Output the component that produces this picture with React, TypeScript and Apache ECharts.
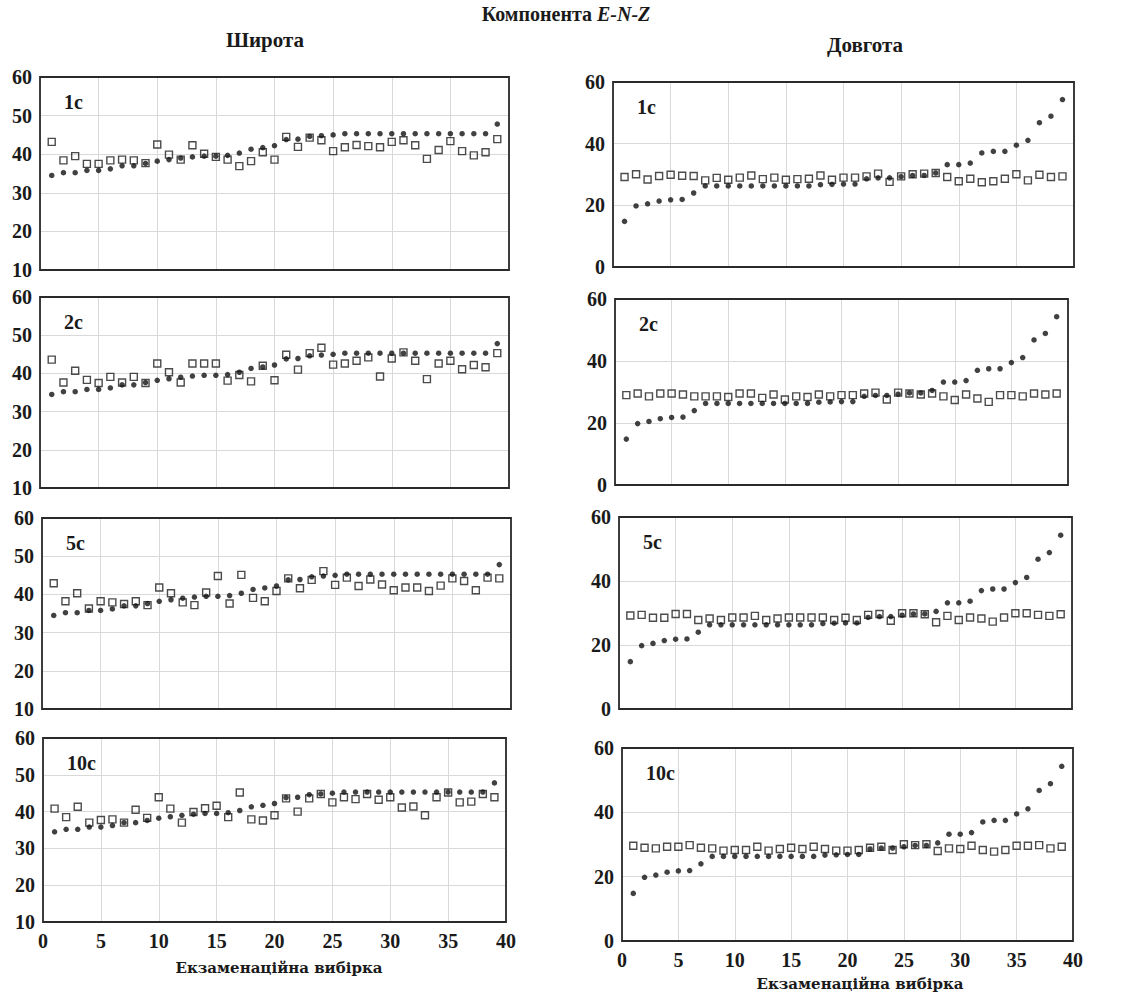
import React, { useEffect, useRef } from "react";
import * as echarts from "echarts";

// sample index (екзаменаційна вибірка)
const sampleIndex = [1, 2, 3, 4, 5, 6, 7, 8, 9, 10, 11, 12, 13, 14, 15, 16, 17, 18, 19, 20,
  21, 22, 23, 24, 25, 26, 27, 28, 29, 30, 31, 32, 33, 34, 35, 36, 37, 38, 39];

const xTicks = { min: 0, max: 40, interval: 5 };
const latTicks = { min: 10, max: 60, interval: 10 };
const lonTicks = { min: 0, max: 60, interval: 20 };

const panelLabels = ["1с", "2с", "5с", "10с"];

// observed (filled dots)
const latObserved = [34.5, 35.2, 35.2, 35.8, 35.8, 36.2, 37.0, 37.0, 37.6, 38.2, 38.6, 39.0, 39.3, 39.5, 39.5, 39.7,
  40.3, 41.3, 41.7, 42.2, 43.8, 43.9, 44.6, 44.8, 45.0, 45.3, 45.3, 45.3, 45.3, 45.3, 45.3, 45.3, 45.3, 45.3,
  45.3, 45.3, 45.3, 45.3, 47.8];
const lonObserved = [14.8, 19.8, 20.5, 21.4, 21.8, 21.9, 24.0, 26.3, 26.3, 26.3, 26.3, 26.3, 26.3, 26.3, 26.3,
  26.3, 26.3, 26.7, 26.8, 26.9, 26.9, 28.6, 28.9, 28.9, 29.3, 29.7, 29.7, 30.5, 33.2, 33.2, 33.7, 37.0, 37.5,
  37.5, 39.5, 41.1, 46.8, 48.9, 54.3];

// predicted (open squares) — latitude
const latPred1 = [43.2, 38.4, 39.5, 37.5, 37.5, 38.4, 38.6, 38.4, 37.7, 42.5, 39.9, 38.6, 42.3, 40.1, 39.3, 38.6,
  36.9, 38.2, 40.5, 38.6, 44.5, 41.9, 44.3, 43.6, 40.8, 41.8, 42.4, 42.1, 41.8, 43.2, 43.6, 42.3, 38.8, 41.1,
  43.4, 40.8, 39.7, 40.5, 43.9];
const latPred2 = [43.6, 37.6, 40.7, 38.3, 37.5, 39.1, 37.6, 39.1, 37.5, 42.6, 40.3, 37.6, 42.6, 42.6, 42.6, 38.1,
  39.6, 37.9, 42.0, 38.2, 44.9, 41.0, 45.3, 46.7, 42.3, 42.6, 43.3, 44.2, 39.2, 43.9, 45.5, 43.3, 38.5, 42.6,
  43.3, 41.1, 42.2, 41.6, 45.3];
const latPred5 = [42.9, 38.2, 40.3, 36.3, 38.2, 37.9, 37.5, 38.2, 37.2, 41.8, 40.3, 37.9, 37.2, 40.5, 44.8, 37.6,
  45.1, 39.1, 38.2, 40.9, 44.2, 41.6, 43.8, 46.1, 42.5, 44.4, 42.2, 43.9, 42.6, 41.1, 41.8, 41.8, 40.9, 42.3,
  44.2, 43.5, 41.1, 44.4, 44.2];
const latPred10 = [40.8, 38.5, 41.3, 37.0, 37.7, 37.9, 37.0, 40.5, 38.3, 43.9, 40.8, 37.0, 39.9, 40.9, 41.6, 38.5,
  45.2, 37.9, 37.6, 39.0, 43.6, 40.0, 43.6, 44.8, 42.5, 43.9, 43.4, 44.8, 43.2, 43.9, 41.1, 41.4, 39.0, 43.9,
  45.2, 42.5, 42.7, 44.8, 43.9];

// predicted (open squares) — longitude
const lonPred1 = [29.2, 30.1, 28.4, 29.5, 29.9, 29.6, 29.5, 28.1, 28.9, 28.3, 29.0, 29.7, 28.5, 29.0, 28.3, 28.5,
  28.6, 29.7, 28.3, 29.0, 29.0, 29.4, 30.3, 27.6, 29.4, 30.1, 30.3, 30.5, 29.2, 27.8, 28.6, 27.5, 27.8, 28.6,
  30.1, 28.1, 29.9, 29.2, 29.4];
const lonPred2 = [29.0, 29.5, 28.6, 29.5, 29.5, 29.2, 28.6, 28.6, 28.6, 28.4, 29.5, 29.5, 28.1, 29.2, 27.6, 28.6,
  28.4, 29.2, 28.6, 29.0, 29.0, 29.5, 29.8, 27.6, 29.8, 29.5, 29.2, 29.5, 28.6, 27.4, 29.2, 27.9, 26.8, 29.0,
  29.0, 28.6, 29.5, 29.2, 29.5];
const lonPred5 = [29.2, 29.4, 28.5, 28.5, 29.7, 29.7, 27.8, 28.3, 27.8, 28.6, 28.6, 29.1, 27.8, 28.3, 28.6, 28.6,
  28.6, 28.6, 27.8, 28.5, 27.8, 29.4, 29.7, 27.6, 29.9, 29.9, 29.6, 27.1, 29.1, 27.8, 28.6, 28.3, 27.3, 28.6,
  29.9, 29.9, 29.4, 29.1, 29.6];
const lonPred10 = [29.6, 29.0, 28.8, 29.3, 29.3, 29.8, 29.0, 28.8, 28.1, 28.3, 28.3, 29.3, 28.1, 28.6, 29.0, 28.6,
  29.3, 28.6, 28.1, 28.1, 28.3, 29.0, 29.3, 28.3, 30.1, 29.8, 30.1, 28.0, 28.8, 28.6, 29.6, 28.3, 27.8, 28.3,
  29.6, 29.6, 29.8, 28.8, 29.3];

const latPredicted = [latPred1, latPred2, latPred5, latPred10];
const lonPredicted = [lonPred1, lonPred2, lonPred5, lonPred10];

// layout of the eight frames (page pixels)
const leftBoxes = [
  { left: 40, top: 77, width: 469, height: 193 },
  { left: 40, top: 297, width: 469, height: 191 },
  { left: 42, top: 518, width: 469, height: 191 },
  { left: 43, top: 738, width: 463, height: 184 },
];
const rightBoxes = [
  { left: 613, top: 82, width: 461, height: 185 },
  { left: 615, top: 299, width: 453, height: 186 },
  { left: 619, top: 517, width: 453, height: 192 },
  { left: 622, top: 748, width: 451, height: 193 },
];

const NUM_FONT = "'Liberation Serif', 'DejaVu Serif', serif";
const TITLE_FONT = "'DejaVu Serif', 'Liberation Serif', serif";
const INK = "#1a1a1a";

export default function App() {
  const ref = useRef<HTMLDivElement>(null);
  useEffect(() => {
    if (!ref.current) return;
    const chart = echarts.init(ref.current, null, { renderer: "svg" });

    const grids: any[] = [];
    const xAxes: any[] = [];
    const yAxes: any[] = [];
    const series: any[] = [];
    const graphics: any[] = [];

    const addPanel = (box: any, ticks: any, observed: number[], predicted: number[], isBottom: boolean, label: string) => {
      const idx = grids.length;
      grids.push({ ...box, show: false, containLabel: false });
      xAxes.push({
        type: "value",
        gridIndex: idx,
        ...xTicks,
        axisLine: { show: false },
        axisTick: { show: false },
        splitLine: { show: true, lineStyle: { color: "#d9d9d9", width: 1 } },
        axisLabel: {
          show: isBottom,
          margin: 9,
          fontFamily: NUM_FONT,
          fontWeight: "bold",
          fontSize: 20,
          color: INK,
        },
      });
      yAxes.push({
        type: "value",
        gridIndex: idx,
        ...ticks,
        axisLine: { show: false },
        axisTick: { show: false },
        splitLine: { show: true, lineStyle: { color: "#d9d9d9", width: 1 } },
        axisLabel: {
          margin: 8,
          fontFamily: NUM_FONT,
          fontWeight: "bold",
          fontSize: 20,
          color: INK,
        },
      });
      series.push({
        type: "scatter",
        xAxisIndex: idx,
        yAxisIndex: idx,
        symbol: "rect",
        symbolSize: 7,
        itemStyle: { color: "rgba(255,255,255,0)", borderColor: "#1e1e1e", borderWidth: 1.4 },
        data: sampleIndex.map((x, i) => [x, predicted[i]]),
        z: 2,
      });
      series.push({
        type: "scatter",
        xAxisIndex: idx,
        yAxisIndex: idx,
        symbol: "circle",
        symbolSize: 5.5,
        itemStyle: { color: "#111" },
        data: sampleIndex.map((x, i) => [x, observed[i]]),
        z: 3,
      });
      // panel frame
      graphics.push({
        type: "rect",
        shape: { x: box.left, y: box.top, width: box.width, height: box.height },
        style: { fill: "none", stroke: "#2a2a2a", lineWidth: 1.8 },
        silent: true,
        z: 20,
      });
      graphics.push({
        type: "text",
        x: box.left + 24,
        y: box.top + 25,
        style: {
          text: label,
          fontSize: 20,
          fontWeight: "bold",
          fontFamily: NUM_FONT,
          fill: INK,
          verticalAlign: "middle",
        },
        z: 10,
      });
    };

    for (let p = 0; p < 4; p++) {
      addPanel(leftBoxes[p], latTicks, latObserved, latPredicted[p], p === 3, panelLabels[p]);
      addPanel(rightBoxes[p], lonTicks, lonObserved, lonPredicted[p], p === 3, panelLabels[p]);
    }

    graphics.push(
      {
        type: "text",
        x: 566,
        y: 14,
        style: {
          text: "Компонента {i|E-N-Z}",
          rich: {
            i: { fontStyle: "italic", fontWeight: "bold", fontSize: 20, fontFamily: NUM_FONT, fill: INK },
          },
          fontSize: 20,
          fontWeight: "bold",
          fontFamily: NUM_FONT,
          fill: INK,
          align: "center",
          verticalAlign: "middle",
        },
      },
      {
        type: "text",
        x: 265,
        y: 40,
        style: {
          text: "Широта", fontSize: 21, fontWeight: "bold", fontFamily: NUM_FONT, fill: INK,
          align: "center", verticalAlign: "middle",
        },
      },
      {
        type: "text",
        x: 865,
        y: 45,
        style: {
          text: "Довгота", fontSize: 21, fontWeight: "bold", fontFamily: NUM_FONT, fill: INK,
          align: "center", verticalAlign: "middle",
        },
      },
      {
        type: "text",
        x: 279,
        y: 968,
        style: {
          text: "Екзаменаційна вибірка", fontSize: 15, fontWeight: "bold", fontFamily: TITLE_FONT, fill: INK,
          align: "center", verticalAlign: "middle",
        },
      },
      {
        type: "text",
        x: 860,
        y: 984,
        style: {
          text: "Екзаменаційна вибірка", fontSize: 15, fontWeight: "bold", fontFamily: TITLE_FONT, fill: INK,
          align: "center", verticalAlign: "middle",
        },
      }
    );

    chart.setOption({
      animation: false,
      backgroundColor: "#ffffff",
      grid: grids,
      xAxis: xAxes,
      yAxis: yAxes,
      series,
      graphic: graphics,
    });
    return () => chart.dispose();
  }, []);

  return (
    <div
      ref={ref}
      style={{ position: "absolute", left: 0, top: 0, width: 1131, height: 998 }}
    />
  );
}
